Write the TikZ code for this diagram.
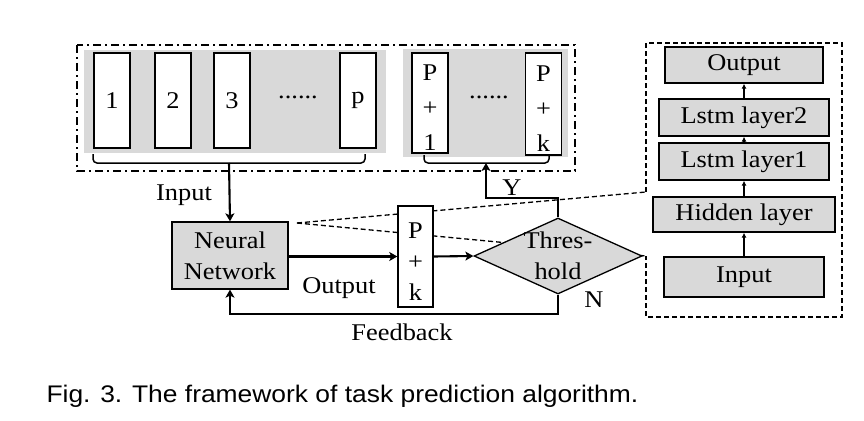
\documentclass[tikz,border=0pt]{standalone}
\usepackage{fontspec}
\setmainfont[FakeStretch=1.1]{Liberation Serif}
\newfontfamily\capfont[FakeStretch=1.1]{Liberation Sans}
\usetikzlibrary{calc,positioning,arrows,arrows.meta,fit,shapes}

\begin{document}
\begin{tikzpicture}[x=1pt,y=-1pt,font=\fontsize{24}{31}\selectfont,
  blk/.style={draw,fill=white,line width=1.4pt,minimum width=36pt,minimum height=95pt,inner sep=0pt},
  gbox/.style={draw,fill=gray!30,line width=1.3pt,inner sep=0pt,align=center},
  arr/.style={line width=2.1pt,-{Stealth[length=8pt,width=9pt,inset=2pt]}},
  sarr/.style={line width=1.6pt,-{Latex[length=5pt,width=5pt]}},
  dsh/.style={line width=1.3pt,dash pattern=on 5pt off 3pt},
  brc/.style={line width=1.5pt,rounded corners=4pt}]
  \useasboundingbox (0,0) rectangle (864,420);

  % input window and predicted window
  \draw[line width=1.4pt,dash pattern=on 8pt off 4pt on 2pt off 4pt] (77,45) rectangle (575,171);
  \fill[gray!30] (84,50) rectangle (386,153);
  \fill[gray!30] (403,49) rectangle (568,157);
  \node[blk] (x1) at (112,100.5) {1};
  \node[blk] (x2) at (173,100.5) {2};
  \node[blk] (x3) at (232,100.5) {3};
  \node (d1) at (298,97) {......};
  \node[blk] (xp) at (358,100.5) {p};
  \node[blk,minimum height=100pt,label={[align=center,yshift=-5pt,font=\fontsize{24}{35}\selectfont]center:P\\+\\1}] (y1) at (430,103) {};
  \node (d2) at (489,97) {......};
  \node[blk,minimum height=102pt,label={[align=center,yshift=-5pt,font=\fontsize{24}{35}\selectfont]center:P\\+\\k}] (yk) at (543.5,104) {};
  \draw[brc] (93,154) |- (365,163) -- (365,154);
  \draw[brc] (424,155) |- (549,163) -- (549,155);
  \coordinate (inb) at (229,163);
  \coordinate (outb) at (486,163);

  % zoom lines to the lstm model
  \coordinate (zc) at (297,223);
  \coordinate (ztop) at (646,192);
  \coordinate (zbot) at (646,256);
  \draw[dsh] (zc) -- (ztop);
  \draw[dsh] (zc) -- (zbot);
  \draw[dsh] (ztop) -- (646,43) -- (842,43) -- (842,317) -- (646,317) -- (zbot);

  \node[gbox,minimum width=116pt,minimum height=67pt] (nn) at (230,255.5) {Neural\\Network};
  \node[blk,minimum width=35pt,minimum height=101pt,label={[align=center,yshift=-5pt,font=\fontsize{24}{31}\selectfont]center:P\\+\\k}] (pk) at (415.5,256.5) {};
  \node[draw,diamond,fill=gray!30,line width=1.3pt,minimum width=168pt,minimum height=76pt,inner sep=0pt,
        label={[align=center]center:Thres-\\hold}] (thr) at (558,256) {};

  \node[anchor=base] (lin) at (184,200) {Input};
  \node[anchor=base] (ly) at (512,195) {Y};
  \node[anchor=base] (lout) at (339,293) {Output};
  \node[anchor=base] (ln) at (594,307) {N};
  \node[anchor=base] (lfb) at (402,340) {Feedback};

  \draw[arr] (inb) -- (nn.north);
  \draw[arr] (nn.east |- pk.west) -- (pk.west);
  \draw[arr] (pk.east) -- (thr.west);
  \draw[arr] (thr.north) -- ++(0,-19) -| (outb);
  \draw[arr] (thr.south) -- ++(0,19) -| (nn.south);

  % lstm model
  \node[gbox,minimum width=158pt,minimum height=36pt] (mo) at (744,65) {Output};
  \node[gbox,minimum width=170pt,minimum height=37pt] (m2) at (744,117.5) {Lstm layer2};
  \node[gbox,minimum width=170pt,minimum height=37pt] (m1) at (744,161.5) {Lstm layer1};
  \node[gbox,minimum width=182pt,minimum height=35pt] (mh) at (744,214.5) {Hidden layer};
  \node[gbox,minimum width=160pt,minimum height=40pt] (mi) at (744,277) {Input};
  \foreach \a/\b in {mi/mh,mh/m1,m1/m2,m2/mo}
    \draw[sarr] (\a) -- (\b);

  \node[anchor=base west,font=\capfont\fontsize{24}{26}\selectfont] (cap) at (43,402) {Fig. 3. The framework of task prediction algorithm.};
\end{tikzpicture}
\end{document}
